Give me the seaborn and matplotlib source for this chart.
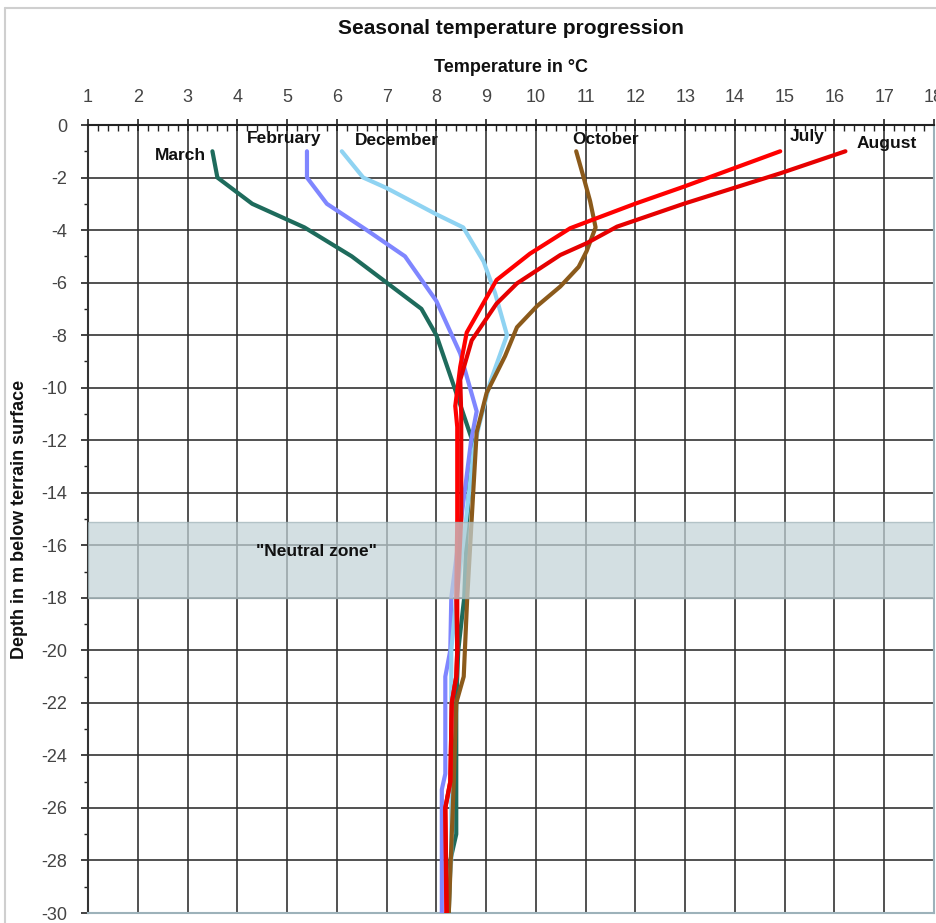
import numpy as np
import pandas as pd
import matplotlib
matplotlib.use("Agg")
import matplotlib.pyplot as plt
from matplotlib.lines import Line2D
from matplotlib.ticker import MultipleLocator
import seaborn as sns

# ---- data ----
march_depth = [-1, -2, -3, -3.9, -5, -6, -7, -8, -10.2, -12, -15, -18, -20, -22, -27, -28, -30]
march_temp = [3.5, 3.6, 4.3, 5.35, 6.3, 7.0, 7.7, 8.0, 8.4, 8.72, 8.62, 8.56, 8.44, 8.4, 8.4, 8.28, 8.25]

feb_depth = [-1, -2, -3, -4, -5, -6.7, -8.7, -10.9, -12, -15, -18, -20, -21, -24.7, -25.3, -30]
feb_temp = [5.4, 5.4, 5.8, 6.6, 7.37, 8.0, 8.48, 8.81, 8.7, 8.5, 8.3, 8.28, 8.18, 8.18, 8.11, 8.11]

dec_depth = [-1, -2, -2.4, -3.4, -3.9, -5.2, -6.4, -8, -9.8, -11.5, -12.4, -15.3, -18, -20, -25, -28, -30]
dec_temp = [6.1, 6.53, 7.0, 8.0, 8.54, 8.95, 9.18, 9.42, 9.08, 8.85, 8.75, 8.58, 8.4, 8.3, 8.3, 8.3, 8.22]

oct_depth = [-1, -2, -2.9, -3.9, -4.8, -5.4, -6.15, -6.9, -7.7, -8.8, -10.2, -11.7, -15, -18, -21, -22, -25, -30]
oct_temp = [10.81, 10.96, 11.09, 11.2, 11.02, 10.86, 10.49, 10.02, 9.62, 9.38, 9.01, 8.81, 8.71, 8.62, 8.55, 8.4, 8.35, 8.25]

jul_depth = [-1, -2.35, -3, -3.55, -3.93, -4.9, -5.9, -7.9, -9.2, -10.7, -11.5, -15, -18, -20, -21, -22, -25, -26, -30]
jul_temp = [14.91, 12.97, 11.99, 11.22, 10.69, 9.88, 9.21, 8.61, 8.48, 8.38, 8.42, 8.42, 8.4, 8.42, 8.4, 8.31, 8.28, 8.18, 8.2]

aug_depth = [-1, -1.84, -3, -3.87, -4.5, -4.95, -6.03, -6.8, -8.2, -9.7, -11, -15, -18, -20, -21, -22, -25, -26, -30]
aug_temp = [16.22, 14.91, 12.97, 11.63, 11.02, 10.49, 9.62, 9.21, 8.71, 8.48, 8.5, 8.5, 8.42, 8.42, 8.4, 8.31, 8.28, 8.18, 8.21]

series_names = ["March", "February", "December", "October", "July", "August"]
series_colors = ["#1e6b5c", "#7f86ff", "#8fd3f2", "#8b5a1b", "#ff0000", "#e60000"]
label_pos = [(2.85, -1.15), (4.95, -0.5), (7.2, -0.6), (11.4, -0.57), (15.45, -0.45), (17.05, -0.7)]

neutral_zone = (-18.0, -15.1)
x_ticks = list(range(1, 19))
y_ticks = list(range(0, -31, -2))

series = [(march_temp, march_depth), (feb_temp, feb_depth), (dec_temp, dec_depth),
          (oct_temp, oct_depth), (jul_temp, jul_depth), (aug_temp, aug_depth)]

sns.set_theme(style="white")
plt.rcParams['font.family'] = ['Liberation Sans', 'DejaVu Sans']
plt.rcParams['axes.unicode_minus'] = False

fig = plt.figure(figsize=(9.37, 9.23), dpi=100)
ax = fig.add_axes([88/937, 1 - 913/923, (934-88)/937, (913-125)/923])

for (t, d), name, col in zip(series, series_names, series_colors):
    df = pd.DataFrame({"temp": t, "depth": d})
    sns.lineplot(data=df, x="temp", y="depth", sort=False, estimator=None,
                 color=col, lw=3.0, ax=ax, zorder=3)

for name, (lx, ly) in zip(series_names, label_pos):
    ax.text(lx, ly, name, ha="center", va="center", fontsize=12.5,
            fontweight="bold", color="#111111", zorder=5)

# neutral zone band drawn over the lines
ax.axhspan(neutral_zone[0], neutral_zone[1], facecolor="#c2d3d7", alpha=0.72,
           edgecolor="#9fb3b8", lw=1.0, zorder=4)
ax.text(5.6, -16.25, "\"Neutral zone\"", ha="center", va="center", fontsize=12.5,
        fontweight="bold", color="#111111", zorder=5)

ax.set_xlim(1, 18)
ax.set_ylim(-30, 0)
ax.set_xticks(x_ticks)
ax.set_yticks(y_ticks)
ax.xaxis.set_minor_locator(MultipleLocator(0.2))
ax.yaxis.set_minor_locator(MultipleLocator(1))
ax.xaxis.tick_top()
ax.xaxis.set_label_position("top")
ax.set_xlabel("")
ax.set_ylabel("Depth in m below terrain surface", fontsize=13, fontweight="bold",
              color="#111111")
ax.yaxis.set_label_coords((28 - 88) / 846, 0.5)
ax.grid(True, which="major", color="#333333", lw=1.2, zorder=1)
ax.set_axisbelow(True)

ax.tick_params(axis="x", which="major", direction="inout", length=8, width=1.2,
               color="#222222", labelsize=13, labelcolor="#444444", pad=10,
               top=True, bottom=False)
ax.tick_params(axis="x", which="minor", direction="in", length=4, width=1.0,
               color="#222222", top=True, bottom=False)
ax.tick_params(axis="y", which="major", direction="out", length=5, width=1.2,
               color="#222222", labelsize=13, labelcolor="#444444", pad=10, left=True)
ax.tick_params(axis="y", which="minor", direction="out", length=3, width=1.0,
               color="#222222", left=True)

ax.spines["top"].set_color("#222222")
ax.spines["top"].set_linewidth(1.5)
ax.spines["left"].set_color("#333333")
ax.spines["left"].set_linewidth(1.5)
ax.spines["bottom"].set_color("#9db2ba")
ax.spines["bottom"].set_linewidth(1.5)
ax.spines["right"].set_color("#9db2ba")
ax.spines["right"].set_linewidth(1.5)
for s in ax.spines.values():
    s.set_visible(True)

fig.text(511/937, 1 - 28/923, "Seasonal temperature progression", ha="center",
         va="center", fontsize=15, fontweight="bold", color="#111111")
fig.text(511/937, 1 - 67/923, "Temperature in °C", ha="center", va="center",
         fontsize=13, fontweight="bold", color="#111111")

# light frame of the original picture
fig.add_artist(Line2D([5/937, 5/937], [0, 1 - 8/923], transform=fig.transFigure,
                      color="#cfcfcf", lw=1.5))
fig.add_artist(Line2D([5/937, 1], [1 - 8/923, 1 - 8/923], transform=fig.transFigure,
                      color="#cfcfcf", lw=1.5))

fig.savefig("out.png", dpi=100)
